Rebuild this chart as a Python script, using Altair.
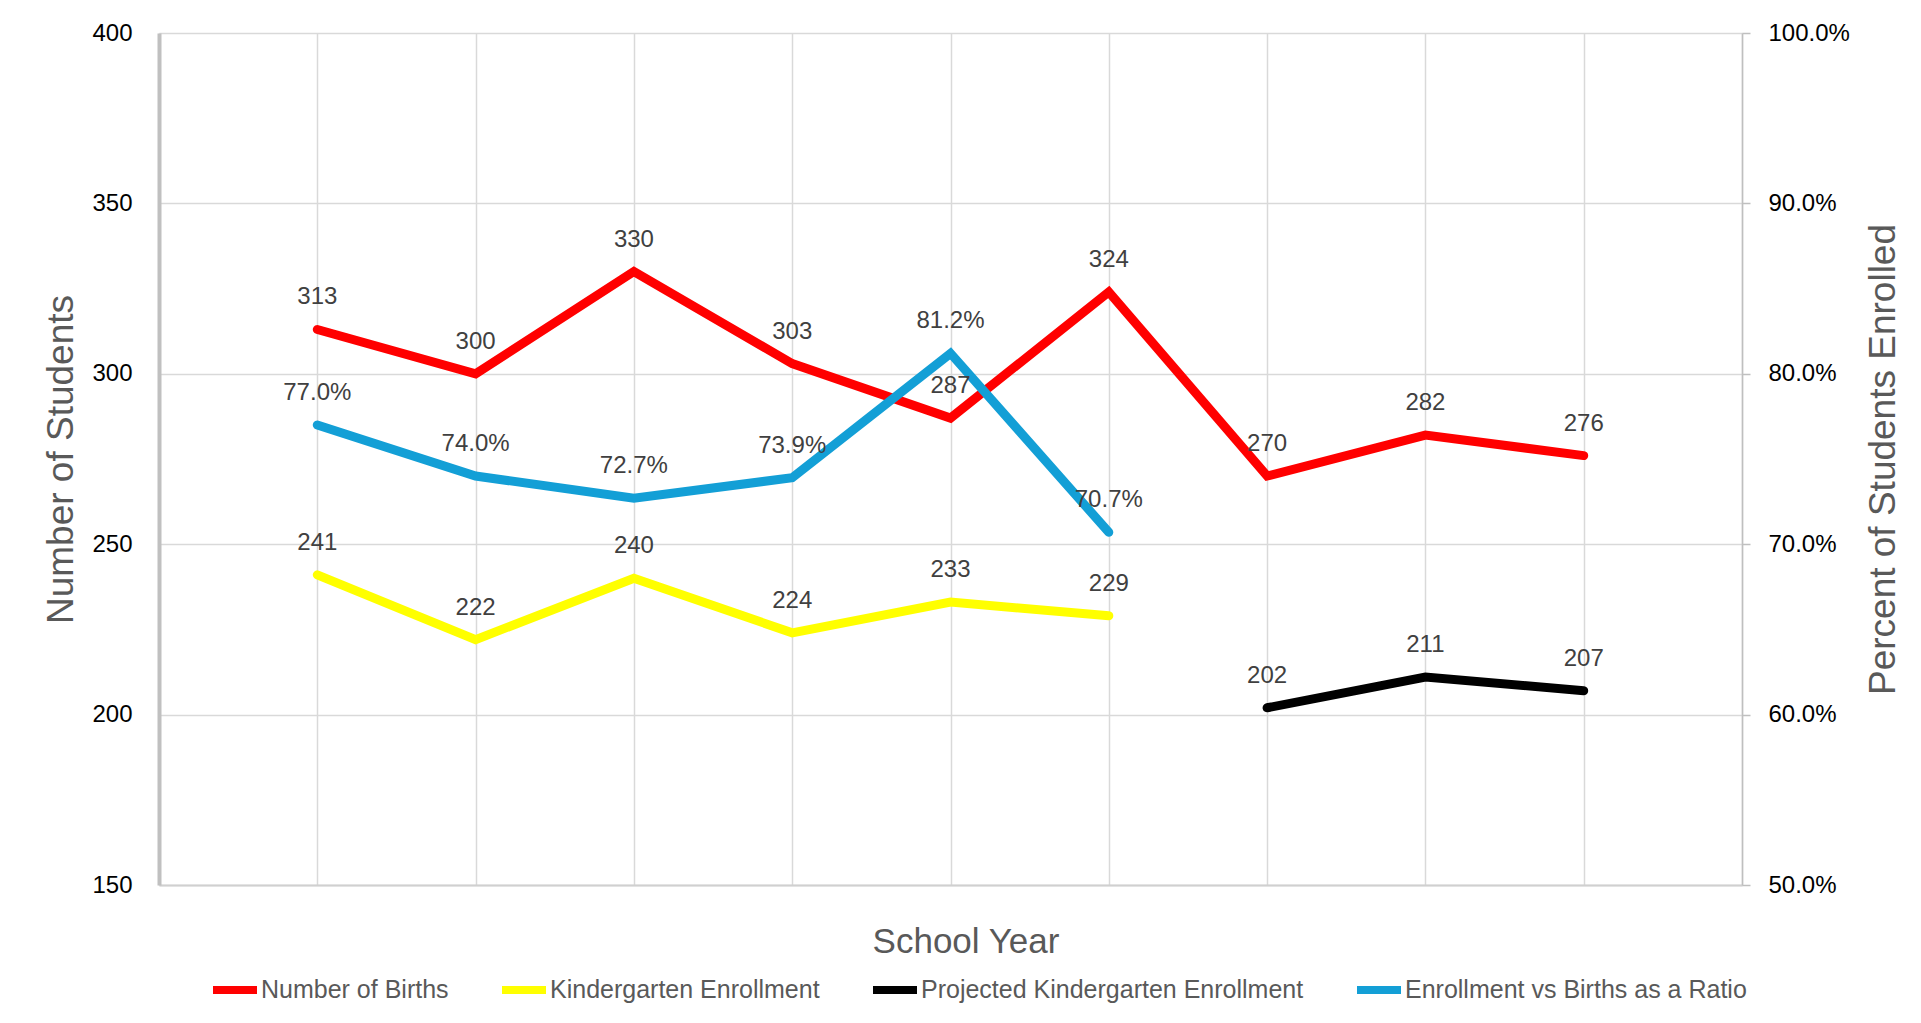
import altair as alt
import pandas as pd

# ---- data ----
positions = [1, 2, 3, 4, 5, 6, 7, 8, 9]
births = [313, 300, 330, 303, 287, 324, 270, 282, 276]
kinder_pos = [1, 2, 3, 4, 5, 6]
kinder = [241, 222, 240, 224, 233, 229]
proj_pos = [7, 8, 9]
projected = [202, 211, 207]
ratio_pos = [1, 2, 3, 4, 5, 6]
ratio = [0.770, 0.740, 0.727, 0.739, 0.812, 0.707]

series_names = [
    "Number of Births",
    "Kindergarten Enrollment",
    "Projected Kindergarten Enrollment",
    "Enrollment vs Births as a Ratio",
]
series_colors = ["#FF0000", "#FFFF00", "#000000", "#139FD6"]

rows = []
for p, v in zip(positions, births):
    rows.append({"idx": p, "value": v, "series": series_names[0]})
for p, v in zip(kinder_pos, kinder):
    rows.append({"idx": p, "value": v, "series": series_names[1]})
for p, v in zip(proj_pos, projected):
    rows.append({"idx": p, "value": v, "series": series_names[2]})
df_counts = pd.DataFrame(rows)
df_ratio = pd.DataFrame({"idx": ratio_pos, "ratio": ratio, "series": series_names[3]})

W, H = 1583, 852
FONT = "Liberation Sans"
GRID = "#d9d9d9"

color = alt.Color(
    "series:N",
    scale=alt.Scale(domain=series_names, range=series_colors),
    legend=alt.Legend(
        title=None,
        orient="none",
        legendX=50,
        legendY=931,
        direction="horizontal",
        columns=4,
        symbolType="stroke",
        symbolStrokeWidth=8,
        symbolSize=1936,
        labelFontSize=25,
        labelColor="#595959",
        labelFont=FONT,
        labelOffset=0,
        columnPadding=37,
        labelLimit=600,
    ),
)

x = alt.X(
    "idx:Q",
    scale=alt.Scale(domain=[0, 10], nice=False),
    axis=alt.Axis(
        values=list(range(11)),
        labels=False,
        ticks=False,
        grid=True,
        gridColor=GRID,
        gridWidth=1.5,
        domainColor="#d0d0d0",
        domainWidth=2,
        title="School Year",
        titleFontSize=35,
        titleFont=FONT,
        titleFontWeight="normal",
        titleColor="#595959",
        titlePadding=39,
        titleX=W / 2 + 15,
        titleAlign="center",
    ),
)

y_left_scale = alt.Scale(domain=[150, 400], nice=False)
y_right_scale = alt.Scale(domain=[0.5, 1.0], nice=False)

line_c = alt.Chart(df_counts).mark_line(strokeWidth=9, strokeCap="round").encode(
    x=x,
    y=alt.Y(
        "value:Q",
        scale=y_left_scale,
        axis=alt.Axis(
            orient="left",
            values=[150, 200, 250, 300, 350, 400],
            grid=True,
            gridColor=GRID,
            gridWidth=1.5,
            ticks=False,
            domainColor="#c0c0c0",
            domainWidth=4,
            labelFontSize=24,
            labelFont=FONT,
            labelColor="#000000",
            labelPadding=27,
            title="Number of Students",
            titleFontSize=37,
            titleFont=FONT,
            titleFontWeight="normal",
            titleColor="#595959",
            titleAngle=270,
            titleX=-98,
            titleY=H / 2,
            titleAlign="center",
            titleBaseline="middle",
        ),
    ),
    color=color,
)

line_r = alt.Chart(df_ratio).mark_line(strokeWidth=9, strokeCap="round").encode(
    x=x,
    y=alt.Y(
        "ratio:Q",
        scale=y_right_scale,
        axis=alt.Axis(
            orient="right",
            values=[0.5, 0.6, 0.7, 0.8, 0.9, 1.0],
            format=".1%",
            grid=False,
            ticks=True,
            tickSize=8,
            tickColor="#bfbfbf",
            tickWidth=1.5,
            domainColor="#bfbfbf",
            domainWidth=1.5,
            labelFontSize=24,
            labelFont=FONT,
            labelColor="#000000",
            labelPadding=18,
            title="Percent of Students Enrolled",
            titleFontSize=37,
            titleFont=FONT,
            titleFontWeight="normal",
            titleColor="#595959",
            titleAngle=270,
            titleX=141,
            titleY=H / 2,
            titleAlign="center",
            titleBaseline="middle",
        ),
    ),
    color=color,
)

text_c = alt.Chart(df_counts).mark_text(
    dy=-32, fontSize=24, font=FONT, color="#404040"
).encode(
    x=x,
    y=alt.Y("value:Q", scale=y_left_scale, axis=None),
    text=alt.Text("value:Q", format="d"),
)

text_r = alt.Chart(df_ratio).mark_text(
    dy=-32, fontSize=24, font=FONT, color="#404040"
).encode(
    x=x,
    y=alt.Y("ratio:Q", scale=y_right_scale, axis=None),
    text=alt.Text("ratio:Q", format=".1%"),
)

chart = (
    alt.layer(line_c, line_r, text_c, text_r)
    .resolve_scale(y="independent")
    .properties(
        width=W,
        height=H,
        autosize=alt.AutoSizeParams(type="none"),
        padding={"left": 151, "top": 25, "right": 170, "bottom": 130},
        background="white",
    )
    .configure_view(stroke=None)
)

chart.save("out.html", embed_options={"renderer": "svg", "actions": False})
